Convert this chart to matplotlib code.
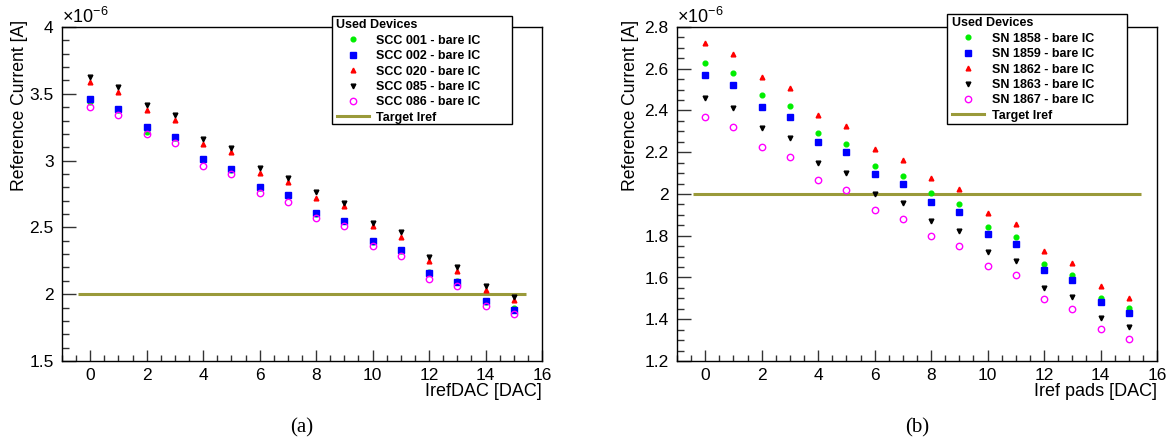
import matplotlib
matplotlib.use("Agg")
import matplotlib.pyplot as plt
from matplotlib.lines import Line2D
from matplotlib.patches import Rectangle
from matplotlib.ticker import MultipleLocator, FuncFormatter

plt.rcParams['font.family'] = ['Liberation Sans', 'DejaVu Sans']
plt.rcParams['mathtext.fontset'] = 'custom'
plt.rcParams['mathtext.rm'] = 'Liberation Sans'

dac = list(range(16))

# Left panel (a): reference current in units of 1e-6 A
labels_a = ["SCC 001 - bare IC", "SCC 002 - bare IC", "SCC 020 - bare IC",
            "SCC 085 - bare IC", "SCC 086 - bare IC"]
scc001 = [3.441, 3.382, 3.214, 3.172, 3.002, 2.933, 2.794, 2.735, 2.604, 2.545, 2.394, 2.326, 2.165, 2.100, 1.945, 1.893]
scc002 = [3.459, 3.389, 3.249, 3.180, 3.010, 2.940, 2.800, 2.741, 2.611, 2.551, 2.401, 2.332, 2.160, 2.092, 1.950, 1.880]
scc020 = [3.586, 3.516, 3.377, 3.307, 3.125, 3.067, 2.908, 2.838, 2.718, 2.658, 2.509, 2.429, 2.247, 2.177, 2.030, 1.960]
scc085 = [3.623, 3.551, 3.416, 3.342, 3.162, 3.092, 2.943, 2.873, 2.763, 2.683, 2.534, 2.464, 2.282, 2.204, 2.065, 1.980]
scc086 = [3.399, 3.339, 3.200, 3.130, 2.960, 2.900, 2.761, 2.691, 2.569, 2.511, 2.359, 2.289, 2.117, 2.060, 1.910, 1.850]

# Right panel (b)
labels_b = ["SN 1858 - bare IC", "SN 1859 - bare IC", "SN 1862 - bare IC",
            "SN 1863 - bare IC", "SN 1867 - bare IC"]
sn1858 = [2.628, 2.579, 2.472, 2.420, 2.293, 2.241, 2.134, 2.085, 2.003, 1.952, 1.843, 1.794, 1.663, 1.613, 1.504, 1.453]
sn1859 = [2.568, 2.520, 2.417, 2.369, 2.248, 2.200, 2.098, 2.048, 1.960, 1.912, 1.810, 1.760, 1.635, 1.588, 1.482, 1.432]
sn1862 = [2.724, 2.671, 2.561, 2.510, 2.377, 2.325, 2.216, 2.161, 2.075, 2.022, 1.910, 1.858, 1.725, 1.671, 1.559, 1.504]
sn1863 = [2.460, 2.414, 2.315, 2.269, 2.149, 2.102, 2.002, 1.955, 1.869, 1.823, 1.723, 1.677, 1.552, 1.506, 1.407, 1.361]
sn1867 = [2.368, 2.321, 2.225, 2.179, 2.066, 2.021, 1.923, 1.878, 1.797, 1.752, 1.655, 1.610, 1.495, 1.450, 1.351, 1.306]

target_iref = 2.0

styles = [
    dict(marker='o', color='#00ee00', markersize=3.4, mfc='#00ee00', mec='#00ee00'),
    dict(marker='s', color='#0000ff', markersize=3.8, mfc='#0000ff', mec='#0000ff'),
    dict(marker='^', color='#ff0000', markersize=3.4, mfc='#ff0000', mec='#ff0000'),
    dict(marker='v', color='#000000', markersize=3.4, mfc='#000000', mec='#000000'),
    dict(marker='o', color='#ff00ff', markersize=4.6, mfc='none', mec='#ff00ff', mew=1.0),
]
olive = '#9a9a3a'

W, H = 1172, 444
fig = plt.figure(figsize=(W / 100, H / 100), dpi=100)


def fx(px):
    return px / W


def fy(py):
    return 1 - py / H


def make_panel(left_px, series, labels, ylim, ymajor, yminor, xlabel, caption, leg_box, ylab_x):
    ax = fig.add_axes([fx(left_px), fy(361), 480 / W, 334 / H])
    for vals, lab, st in zip(series, labels, styles):
        ax.plot(dac, vals, linestyle='none', label=lab, zorder=3, **st)
    ax.hlines(target_iref, -0.45, 15.45, color=olive, lw=2.2, zorder=2)
    ax.set_xlim(-1, 16)
    ax.set_ylim(*ylim)
    ax.xaxis.set_major_locator(MultipleLocator(2))
    ax.xaxis.set_minor_locator(MultipleLocator(0.5))
    ax.yaxis.set_major_locator(MultipleLocator(ymajor))
    ax.yaxis.set_minor_locator(MultipleLocator(yminor))
    ax.tick_params(axis='both', which='both', direction='in', top=False, right=False,
                   labelsize=12.5, width=1, color='#333333')
    ax.tick_params(axis='y', which='major', length=10, pad=6)
    ax.tick_params(axis='y', which='minor', length=5)
    ax.tick_params(axis='x', which='major', length=8, pad=5)
    ax.tick_params(axis='x', which='minor', length=4)
    ax.yaxis.set_major_formatter(FuncFormatter(lambda v, p: ('%g' % round(v, 3))))
    for s in ax.spines.values():
        s.set_linewidth(1.0)
    ax.set_xlabel(xlabel, fontsize=13, loc='right')
    ax.xaxis.set_label_coords(1.0, -22 / 334)
    ax.set_ylabel('Reference Current [A]', fontsize=12.7, loc='top')
    ax.yaxis.set_label_coords(ylab_x, 1 + 7 / 334)
    ax.text(0.0, 1.0, r'$\mathregular{\times10^{-6}}$', transform=ax.transAxes,
            fontsize=13, ha='left', va='bottom')
    fig.text(fx(left_px + 240), fy(428), caption, fontsize=15,
             family='Liberation Serif', ha='center', va='center')
    # legend
    bx0, by0, bx1, by1 = leg_box
    fig.patches.append(Rectangle((fx(bx0), fy(by1)), (bx1 - bx0) / W, (by1 - by0) / H,
                                 transform=fig.transFigure, facecolor='white',
                                 edgecolor='black', lw=1.0, zorder=5))
    handles = [Line2D([], [], linestyle='none', **st) for st in styles]
    handles.append(Line2D([], [], color=olive, lw=2.2))
    leg = fig.legend(handles, labels + ['Target Iref'], loc='upper left',
                     bbox_to_anchor=(fx(bx0 + 2), fy(by0 + 1)), bbox_transform=fig.transFigure,
                     frameon=False, prop=dict(size=9, weight='bold'),
                     title='Used Devices', title_fontproperties=dict(size=9, weight='bold'),
                     alignment='left', borderpad=0.2, labelspacing=0.27,
                     handlelength=2.6, handletextpad=0.6, borderaxespad=0)
    leg.set_zorder(6)
    return ax


make_panel(62, [scc001, scc002, scc020, scc085, scc086], labels_a, (1.5, 4.0), 0.5, 0.1,
           'IrefDAC [DAC]', '(a)', (332, 16, 512, 124), (28 - 62) / 480)
make_panel(677, [sn1858, sn1859, sn1862, sn1863, sn1867], labels_b, (1.2, 2.8), 0.2, 0.05,
           'Iref pads [DAC]', '(b)', (947, 14, 1127, 124), (639 - 677) / 480)

fig.savefig('out.png', dpi=100)
